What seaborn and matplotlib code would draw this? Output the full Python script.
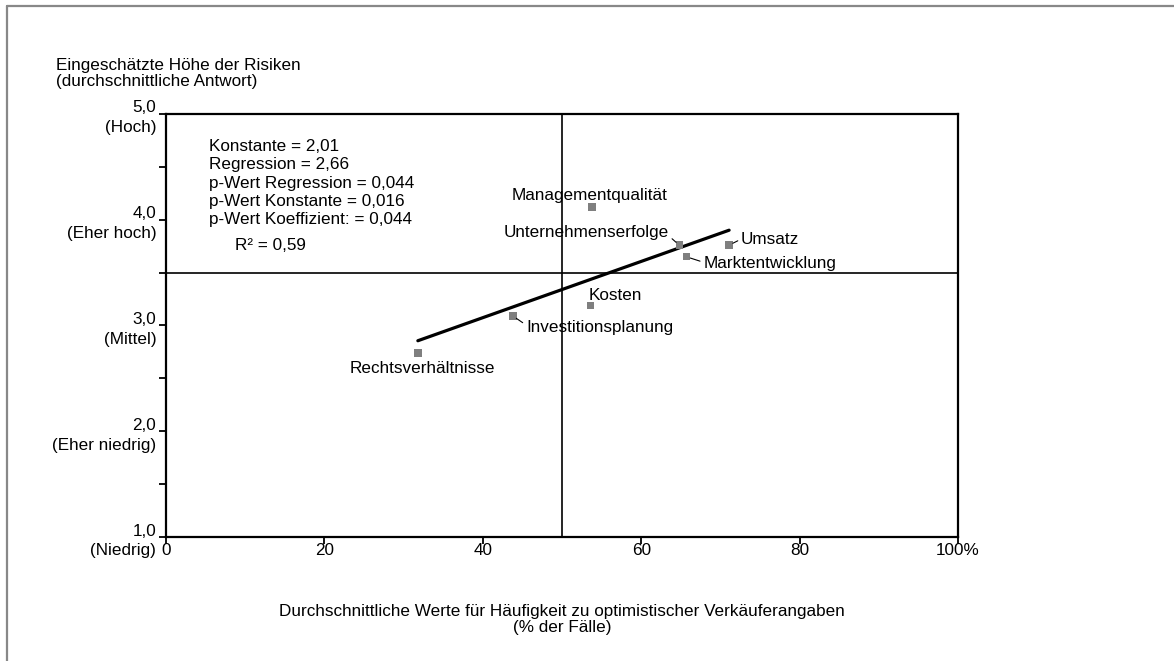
import pandas as pd
import numpy as np
import matplotlib
matplotlib.use("Agg")
import matplotlib.pyplot as plt
from matplotlib.lines import Line2D
import seaborn as sns

# data
labels = ["Managementqualität", "Unternehmenserfolge", "Umsatz", "Marktentwicklung",
          "Kosten", "Investitionsplanung", "Rechtsverhältnisse"]
haeufigkeit = [53.8, 64.8, 71.1, 65.7, 53.6, 43.8, 31.8]
risiko = [4.12, 3.76, 3.76, 3.65, 3.19, 3.09, 2.74]

konstante = 2.01
regression = 2.66

y_ticks = [1, 2, 3, 4, 5]
y_ticklabels = ["1,0\n(Niedrig)", "2,0\n(Eher niedrig)", "3,0\n(Mittel)",
                "4,0\n(Eher hoch)", "5,0\n(Hoch)"]
x_ticks = [0, 20, 40, 60, 80, 100]
x_ticklabels = ["0", "20", "40", "60", "80", "100%"]

stats_text = ("Konstante = 2,01\nRegression = 2,66\np-Wert Regression = 0,044\n"
              "p-Wert Konstante = 0,016\np-Wert Koeffizient: = 0,044")
r2_text = "R² = 0,59"

FS = 12.3

# label offsets in points: dx, dy, ha, relpos of leader line (None = no line)
label_pos = {
    "Managementqualität": (-1.5, 8.6, "center", None),
    "Unternehmenserfolge": (-7.5, 9.4, "right", (1.0, 0.25)),
    "Umsatz": (8.6, 4.3, "left", (0.0, 0.5)),
    "Marktentwicklung": (12.2, -5.0, "left", (0.0, 0.6)),
    "Kosten": (-1.0, 7.2, "left", None),
    "Investitionsplanung": (9.4, -8.6, "left", (0.0, 0.7)),
    "Rechtsverhältnisse": (2.9, -11.5, "center", None),
}

df = pd.DataFrame({"label": labels, "x": haeufigkeit, "y": risiko})
x_fit = np.array([min(haeufigkeit), max(haeufigkeit)])
fit = pd.DataFrame({"x": x_fit, "y": konstante + regression * x_fit / 100})

sns.set_style("white")
plt.rcParams["font.family"] = ["Liberation Sans", "DejaVu Sans"]
plt.rcParams["font.size"] = FS
plt.rcParams["text.color"] = "black"
plt.rcParams["xtick.color"] = "black"
plt.rcParams["ytick.color"] = "black"

fig = plt.figure(figsize=(11.74, 6.61), dpi=100)
ax = fig.add_axes([166 / 1174, 1 - 537 / 661, 792 / 1174, 423 / 661])

ax.axvline(50, color="black", lw=1.2, zorder=1)
ax.axhline(3.5, color="black", lw=1.2, zorder=1)
sns.lineplot(data=fit, x="x", y="y", color="black", lw=2.3, ax=ax, zorder=2)
sns.scatterplot(data=df, x="x", y="y", marker="s", s=28, color="#7f7f7f",
                edgecolor="none", ax=ax, zorder=3)

for _, row in df.iterrows():
    dx, dy, ha, rel = label_pos[row["label"]]
    arrow = None
    if rel is not None:
        arrow = dict(arrowstyle="-", color="black", lw=0.8, relpos=rel,
                     shrinkA=0, shrinkB=3)
    ax.annotate(row["label"], (row["x"], row["y"]), xytext=(dx, dy),
                textcoords="offset points", ha=ha, va="center", fontsize=FS,
                color="black", arrowprops=arrow)

ax.set_xlim(0, 100)
ax.set_ylim(1, 5)
ax.set_xticks(x_ticks)
ax.set_xticklabels(x_ticklabels, fontsize=FS)
ax.set_yticks(y_ticks)
ax.set_yticklabels(y_ticklabels, fontsize=FS, ha="right", multialignment="right",
                   linespacing=1.4)
ax.set_yticks([1.5, 2.5, 3.5, 4.5], minor=True)
ax.tick_params(axis="both", which="both", direction="out", length=5, width=1.3,
               color="black", labelcolor="black", left=True, bottom=True)
ax.tick_params(axis="x", pad=-1)
ax.tick_params(axis="y", pad=2)
ax.set_xlabel("")
ax.set_ylabel("")
for sp in ax.spines.values():
    sp.set_color("black")
    sp.set_linewidth(1.6)

fig.text(209 / 1174, 1 - 139 / 661, stats_text, fontsize=FS, va="top",
         linespacing=1.28)
fig.text(270 / 1174, 1 - 245 / 661, r2_text, ha="center", va="center", fontsize=FS)

fig.text(56 / 1174, 1 - 58 / 661,
         "Eingeschätzte Höhe der Risiken\n(durchschnittliche Antwort)",
         ha="left", va="top", fontsize=FS, linespacing=1.09)
fig.text(562 / 1174, 1 - 604 / 661,
         "Durchschnittliche Werte für Häufigkeit zu optimistischer Verkäuferangaben\n(% der Fälle)",
         ha="center", va="top", fontsize=FS, linespacing=1.05)

# grey frame at top and left
fig.add_artist(Line2D([7 / 1174, 7 / 1174], [0, 1 - 6 / 661], color="#888888", lw=1.6))
fig.add_artist(Line2D([7 / 1174, 1], [1 - 6 / 661, 1 - 6 / 661], color="#888888", lw=1.6))

fig.savefig("out.png", dpi=100, facecolor="white")
